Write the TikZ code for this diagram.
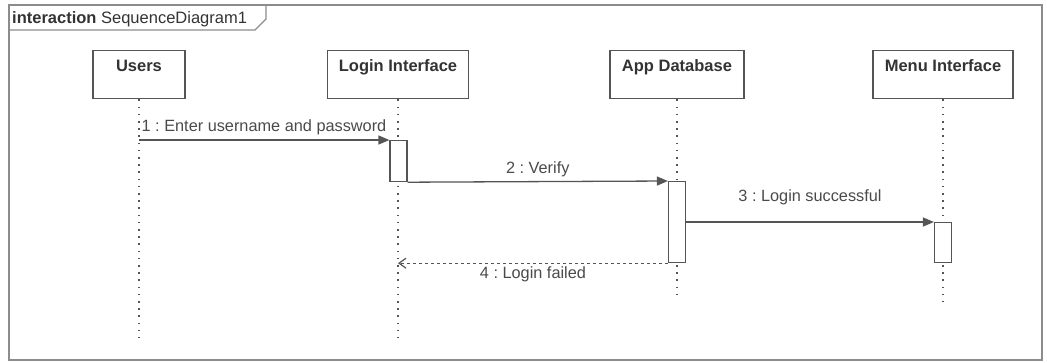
\documentclass[tikz,border=0pt]{standalone}
\usepackage{fontspec}
\setmainfont{Liberation Sans}
\frenchspacing
\usetikzlibrary{arrows.meta}
\definecolor{ink}{HTML}{333333}
\definecolor{lab}{HTML}{4A4A4A}
\definecolor{edge}{HTML}{555555}
\definecolor{framec}{HTML}{8C8C8C}
\tikzset{
  x=1pt, y=1pt,
  lifebox/.style={draw=edge, line width=1.3pt, fill=white, inner xsep=0pt, inner ysep=0pt,
    text height=21pt, text depth=27pt, font=\fontsize{16.5}{19}\selectfont\bfseries, text=ink},
  actbox/.style={draw=edge, line width=1.2pt, fill=white, minimum width=17pt, inner sep=0pt},
  lifeline/.style={draw=edge, line width=1.5pt, dash pattern=on 1.6pt off 5.6pt},
  msg/.style={draw=edge, line width=1.3pt, -{Triangle[length=11pt,width=9pt]}},
  retmsg/.style={draw=edge, line width=1.2pt, dash pattern=on 3pt off 3pt, -{Straight Barb[length=7pt,width=10pt]}},
  msglabel/.style={font=\fontsize{16.3}{19}\selectfont, text=lab, inner sep=1pt},
}
\begin{document}
\begin{tikzpicture}
\useasboundingbox (0,0) rectangle (1047,-362);
% frame
\draw[framec, line width=1.5pt] (9,-5) rectangle (1042,-360);
\draw[framec, line width=1.4pt] (9,-30) -- (255,-30) -- (266,-19) -- (266,-5);
\node[anchor=base west, inner sep=0pt, text=ink, font=\fontsize{16.5}{19}\selectfont] (title) at (12,-23)
  {\textbf{interaction} SequenceDiagram1};
% lifeline heads
\node[lifebox, minimum width=92pt, anchor=north] (users) at (139,-50) {Users};
\node[lifebox, minimum width=141pt, anchor=north] (login) at (398,-50) {Login Interface};
\node[lifebox, minimum width=134pt, anchor=north] (appdb) at (677,-50) {App Database};
\node[lifebox, minimum width=140pt, anchor=north] (menu) at (943,-50) {Menu Interface};
% lifeline ends
\coordinate (usersend) at (139,-338);
\coordinate (loginend) at (398,-338);
\coordinate (appdbend) at (677,-300);
\coordinate (menuend) at (943,-302);
\draw[lifeline] (users.south) -- (usersend);
\draw[lifeline] (login.south) -- (loginend);
\draw[lifeline] (appdb.south) -- (appdbend);
\draw[lifeline] (menu.south) -- (menuend);
% activations
\node[actbox, minimum height=41pt, anchor=north] (act1) at (398.5,-140) {};
\node[actbox, minimum height=81pt, anchor=north] (act2) at (677,-181) {};
\node[actbox, minimum height=40pt, anchor=north] (act3) at (943,-222) {};
% messages
\draw[msg] (users.south |- act1.north west) -- (act1.north west)
  node[msglabel, pos=0, anchor=south west, xshift=1pt, yshift=3pt] {1 : Enter username and password};
\draw[msg] (act1.south east) -- (act2.north west)
  node[msglabel, midway, above, yshift=3pt] {2 : Verify};
\draw[msg] (act2.east |- act3.north west) -- (act3.north west)
  node[msglabel, midway, above, yshift=15pt] {3 : Login successful};
\draw[retmsg] (act2.south west) -- (login.south |- act2.south west)
  node[msglabel, midway, below, yshift=-2pt] {4 : Login failed};
\end{tikzpicture}
\end{document}
